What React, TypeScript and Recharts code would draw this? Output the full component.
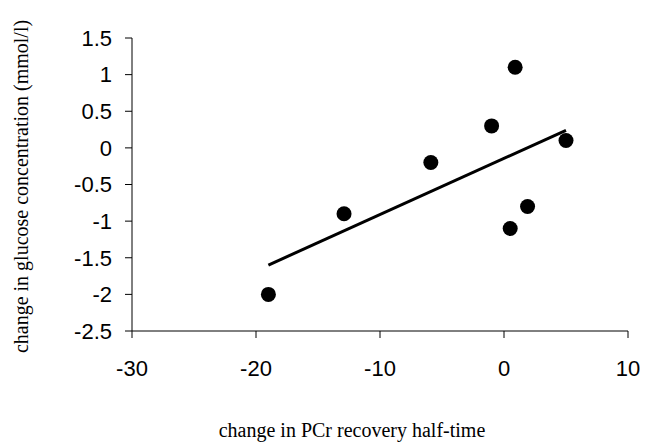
import React from 'react';
import { ScatterChart, Scatter, XAxis, YAxis } from 'recharts';

const pcrChange = [-19, -12.9, -5.9, -1.0, 0.9, 0.5, 1.9, 5.0];
const glucoseChange = [-2.0, -0.9, -0.2, 0.3, 1.1, -1.1, -0.8, 0.1];
const trendX = [-19, 5];
const trendY = [-1.6, 0.24];
const xTicks = [-30, -20, -10, 0, 10];
const yTicks = [-2.5, -2, -1.5, -1, -0.5, 0, 0.5, 1, 1.5];
const xTitle = 'change in PCr recovery half-time';
const yTitle = 'change in glucose concentration (mmol/l)';

const points = pcrChange.map((x, i) => ({ x, y: glucoseChange[i] }));
const trend = trendX.map((x, i) => ({ x, y: trendY[i] }));

const tickStyle = { fill: '#000', fontSize: 22, fontFamily: '"Liberation Sans", Arial, sans-serif' };
const titleFont = '"Liberation Serif", "Times New Roman", serif';

const Dot = (props: any) => <circle cx={props.cx} cy={props.cy} r={7.5} fill="#000" />;
const NoDot = () => <g />;

const XTitle = (props: any) => {
  const vb = props.viewBox || {};
  const cx = vb.x + vb.width / 2 - 28;
  return (
    <text x={cx} y={437} textAnchor="middle" fontSize={20} fontFamily={titleFont} fill="#000">
      {xTitle}
    </text>
  );
};

const YTitle = (props: any) => {
  const vb = props.viewBox || {};
  const cy = vb.y + vb.height / 2 + 2;
  const x = 28;
  return (
    <text x={x} y={cy} textAnchor="middle" fontSize={20} fontFamily={titleFont} fill="#000" transform={`rotate(-90, ${x}, ${cy})`}>
      {yTitle}
    </text>
  );
};

export default function App() {
  return (
    <div style={{ position: 'absolute', left: 0, top: 0, width: 649, height: 444, background: '#fff' }}>
      <ScatterChart width={649} height={444} margin={{ top: 38, right: 21, bottom: 0, left: 0 }}>
        <XAxis
          type="number"
          dataKey="x"
          domain={[-30, 10]}
          ticks={xTicks}
          interval={0}
          height={113}
          tickSize={7}
          tickMargin={22}
          tick={tickStyle}
          axisLine={{ stroke: '#000' }}
          tickLine={{ stroke: '#000' }}
          label={<XTitle />}
        />
        <YAxis
          type="number"
          dataKey="y"
          domain={[-2.5, 1.5]}
          ticks={yTicks}
          interval={0}
          width={132}
          tickSize={7}
          tickMargin={13}
          tick={tickStyle}
          axisLine={{ stroke: '#000' }}
          tickLine={{ stroke: '#000' }}
          label={<YTitle />}
        />
        <Scatter data={trend} shape={NoDot} line={{ stroke: '#000', strokeWidth: 3 }} isAnimationActive={false} legendType="none" />
        <Scatter data={points} shape={Dot} isAnimationActive={false} legendType="none" />
      </ScatterChart>
    </div>
  );
}
